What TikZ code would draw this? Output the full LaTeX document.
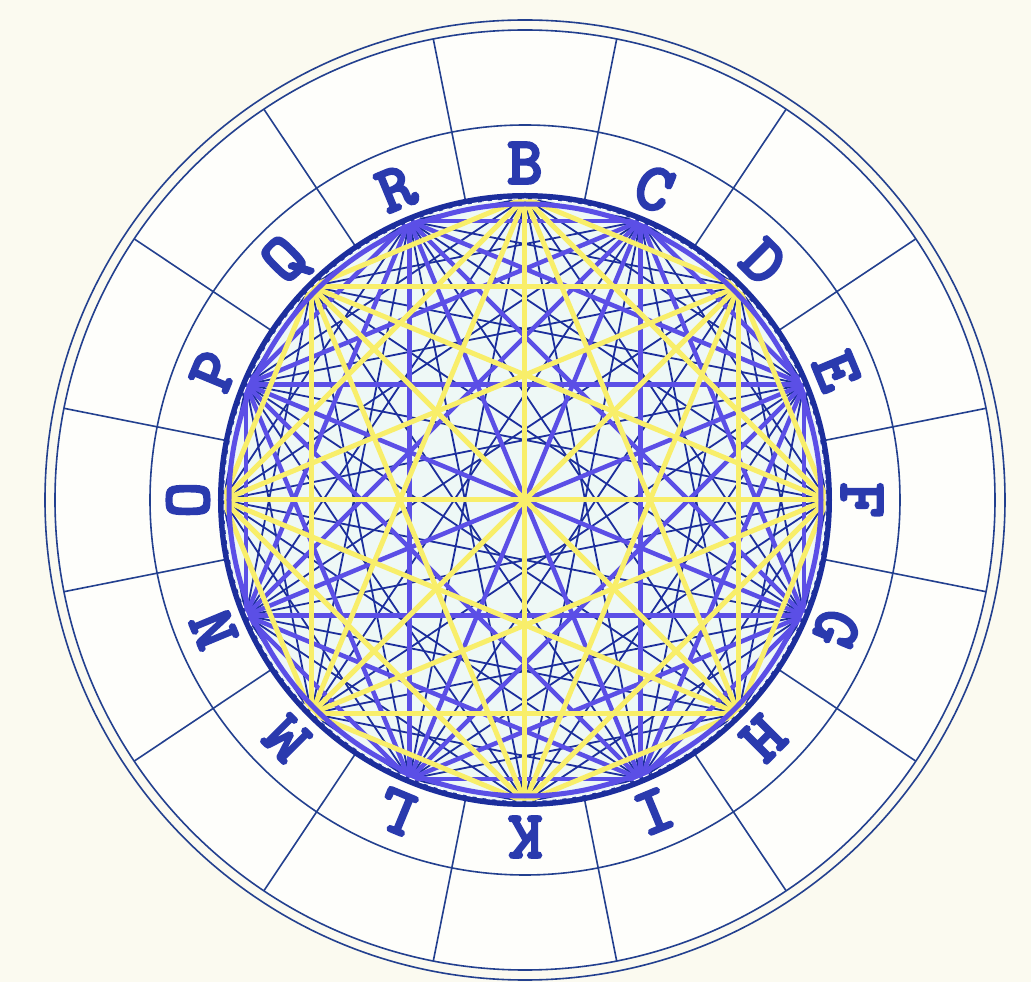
\documentclass[tikz,border=0pt]{standalone}
\usepackage{fontspec}
\newfontfamily\lettfont[FakeBold=3]{lmmonolt10-bold.otf}
\definecolor{bg}{HTML}{FBFAF0}
\definecolor{ringfill}{HTML}{FEFEFB}
\definecolor{innerfill}{HTML}{EEF8F6}
\definecolor{ringline}{HTML}{23408F}
\definecolor{letterc}{HTML}{2A3AAE}
\definecolor{yel}{HTML}{F8EE6A}
\definecolor{purp}{HTML}{5B4FE6}
\definecolor{dkb}{HTML}{1C2E9C}
\tikzset{
  ringln/.style={draw=ringline, line width=1.6pt},
  yelchord/.style={draw=yel, line width=5pt},
  purpchord/.style={draw=purp, line width=4.5pt},
  dkchord/.style={draw=dkb, line width=1.8pt},
  lettr/.style={text=letterc, inner sep=0pt, anchor=center,
    font=\lettfont\fontsize{68}{68}\selectfont}
}
\begin{document}
\begin{tikzpicture}[x=1pt,y=1pt]
\useasboundingbox (-525,-482) rectangle (506,500);
\fill[bg] (-525,-482) rectangle (506,500);
\coordinate (c) at (0,0);
% rings
\fill[ringfill] (c) circle (470);
\draw[ringln] (c) circle (480);
\draw[ringln] (c) circle (470);
\draw[ringln] (c) circle (375);
\foreach \k in {0,...,15} {
  \coordinate (ri\k) at ({78.75-22.5*\k}:305);
  \coordinate (ro\k) at ({78.75-22.5*\k}:470);
  \draw[ringln] (ri\k) -- (ro\k);
}
% letters
\foreach \L [count=\k from 0] in {B,C,D,E,F,G,H,I,K,L,M,N,O,P,Q,R} {
  \node[lettr, rotate={-22.5*\k}] (let\k) at ({90-22.5*\k}:337) {\L};
}
% inner disc
\fill[innerfill] (c) circle (304);
\foreach \i in {0,...,15} {
  \coordinate (p\i) at ({90-22.5*\i}:302);
}
% dark blue chords (mixed parity)
\foreach \i in {0,2,...,14} {
  \foreach \j in {1,3,...,15} {
    \draw[dkchord] (p\i) -- (p\j);
  }
}
% purple chords (odd points)
\foreach \i in {1,3,...,15} {
  \foreach \j in {1,3,...,15} {
    \ifnum\i<\j \draw[purpchord] (p\i) -- (p\j); \fi
  }
}
% yellow chords (even points)
\foreach \i in {0,2,...,14} {
  \foreach \j in {0,2,...,14} {
    \ifnum\i<\j \draw[yelchord] (p\i) -- (p\j); \fi
  }
}
\draw[draw=purp, line width=5pt] (c) circle (296);
\draw[draw=dkb, line width=6pt] (c) circle (304);
\draw[draw=white, line width=1pt, dash pattern=on 6pt off 4pt] (c) circle (301);
\end{tikzpicture}
\end{document}
